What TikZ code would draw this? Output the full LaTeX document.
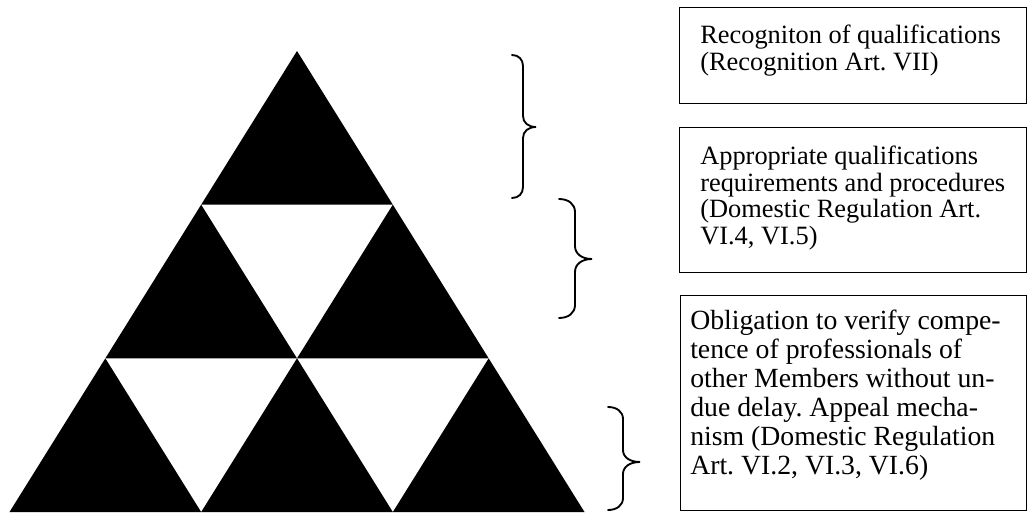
\documentclass[tikz,border=0pt]{standalone}
\usepackage{fontspec}
\setmainfont{Liberation Serif}
\frenchspacing
\newcommand\mybrace[7]{% x0, v, tip, yt, ym, yb, r
  \draw[bracest] (#1,#4) .. controls ({#1+0.6*(#2-#1)},#4) and (#2,{#4+0.4*#7}) .. (#2,{#4+#7})
    -- (#2,{#5-#7}) .. controls (#2,{#5-0.4*#7}) and ({#2+0.4*(#3-#2)},#5) .. (#3,#5)
    .. controls ({#2+0.4*(#3-#2)},#5) and (#2,{#5+0.4*#7}) .. (#2,{#5+#7})
    -- (#2,{#6-#7}) .. controls (#2,{#6-0.4*#7}) and ({#1+0.6*(#2-#1)},#6) .. (#1,#6);}
\begin{document}
\begin{tikzpicture}[x=0.75pt,y=-0.75pt,
  tri/.style={fill=black},
  boxst/.style={draw=black, line width=1.1pt, anchor=north west, inner sep=0pt},
  txt/.style={anchor=north west, inner sep=0pt, align=left, font=\fontsize{19.8}{20}\selectfont\frenchspacing},
  txtb/.style={txt, font=\fontsize{20.8}{21.75}\selectfont\frenchspacing},
  bracest/.style={line width=1.4pt, line cap=round}]
\useasboundingbox (0,0) rectangle (1029,514);
% triangle grid
\def\ax{297}\def\ay{51}\def\h{153.667}\def\w{95.833}
\foreach \k in {0,1,2,3}{
  \foreach \i in {0,...,\k}{
    \coordinate (p\k\i) at ({\ax-\k*\w+2*\i*\w},{\ay+\k*\h});
  }
}
\fill[tri] (p00) -- (p10) -- (p11) -- cycle;
\fill[tri] (p10) -- (p20) -- (p21) -- cycle;
\fill[tri] (p11) -- (p21) -- (p22) -- cycle;
\fill[tri] (p20) -- (p30) -- (p31) -- cycle;
\fill[tri] (p21) -- (p31) -- (p32) -- cycle;
\fill[tri] (p22) -- (p32) -- (p33) -- cycle;
% braces
\mybrace{512}{523}{536}{55}{127}{198}{11}
\mybrace{559}{575}{592}{199}{259}{318}{13}
\mybrace{608}{623}{640}{407}{462}{510}{12}
% boxes
\node[boxst, minimum width=260.25pt, minimum height=72pt] (b1) at (679,7) {};
\node[boxst, minimum width=260.25pt, minimum height=108.75pt] (b2) at (679,127) {};
\node[boxst, minimum width=259.5pt, minimum height=161.25pt] (b3) at (680,295) {};
\node[txt] (t1) at (700,24.5) {Recogniton of qualifications\\(Recognition Art. VII)};
\node[txt] (t2) at (700,145.5) {Appropriate qualifications\\requirements and procedures\\(Domestic Regulation Art.\\VI.4, VI.5)};
\node[txtb] (t3) at (690,309.5) {Obligation to verify compe-\\tence of professionals of\\other Members without un-\\due delay. Appeal mecha-\\nism (Domestic Regulation\\Art. VI.2, VI.3, VI.6)};
\end{tikzpicture}
\end{document}
